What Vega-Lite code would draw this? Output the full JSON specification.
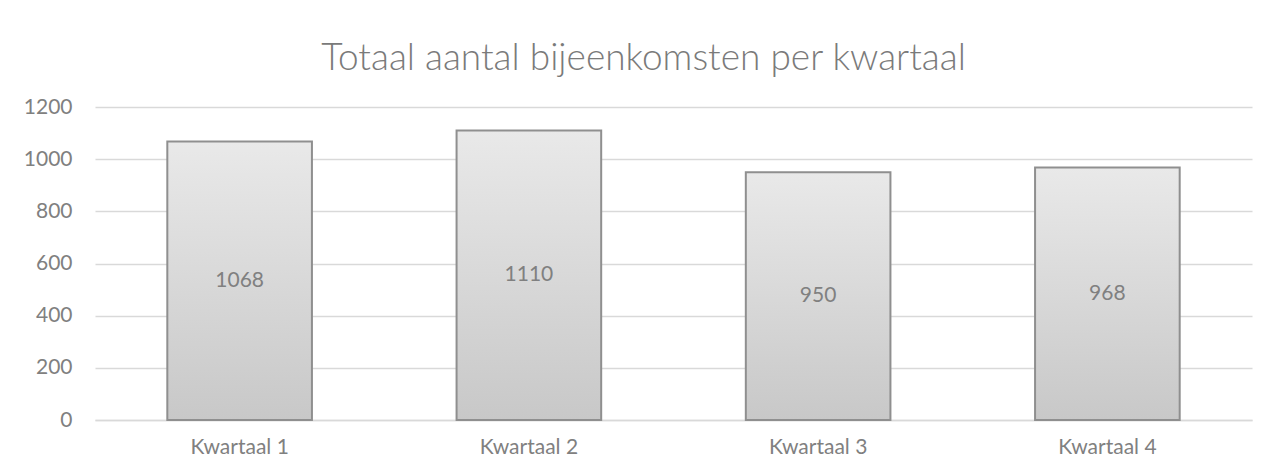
{
  "$schema": "https://vega.github.io/schema/vega-lite/v6.json",
  "width": 1157,
  "height": 313,
  "autosize": {"type": "none"},
  "padding": {"left": 95, "top": 107, "right": 30, "bottom": 55},
  "background": "white",
  "title": {
    "text": "Totaal aantal bijeenkomsten per kwartaal",
    "font": "Lato",
    "fontSize": 37,
    "fontWeight": 300,
    "color": "#7a7a7a",
    "anchor": "middle",
    "offset": 18,
    "dx": -30
  },
  "data": {
    "values": [
      {"kwartaal": "Kwartaal 1", "aantal": 1068},
      {"kwartaal": "Kwartaal 2", "aantal": 1110},
      {"kwartaal": "Kwartaal 3", "aantal": 950},
      {"kwartaal": "Kwartaal 4", "aantal": 968}
    ]
  },
  "config": {
    "view": {"stroke": null},
    "axis": {
      "labelFont": "Lato",
      "labelFontSize": 21,
      "labelColor": "#808080",
      "titleFont": "Lato"
    }
  },
  "encoding": {
    "x": {
      "field": "kwartaal",
      "type": "nominal",
      "sort": null,
      "scale": {"paddingInner": 0.5, "paddingOuter": 0.25},
      "axis": {
        "title": null,
        "labelAngle": 0,
        "ticks": false,
        "labelPadding": 16,
        "domainColor": "#d9d9d9",
        "domainWidth": 1.5
      }
    }
  },
  "layer": [
    {
      "mark": {
        "type": "bar",
        "stroke": "#8f8f8f",
        "strokeWidth": 2,
        "color": {
          "gradient": "linear",
          "x1": 0, "y1": 0, "x2": 0, "y2": 1,
          "stops": [
            {"offset": 0, "color": "#e9e9e9"},
            {"offset": 1, "color": "#c8c8c8"}
          ]
        }
      },
      "encoding": {
        "y": {
          "field": "aantal",
          "type": "quantitative",
          "scale": {"domain": [0, 1200], "nice": false},
          "axis": {
            "title": null,
            "format": "d",
            "values": [0, 200, 400, 600, 800, 1000, 1200],
            "ticks": false,
            "domain": false,
            "labelPadding": 23,
            "gridColor": "#d9d9d9",
            "gridWidth": 1.5
          }
        }
      }
    },
    {
      "transform": [{"calculate": "datum.aantal / 2", "as": "midden"}],
      "mark": {
        "type": "text",
        "font": "Lato",
        "fontSize": 21,
        "color": "#808080",
        "baseline": "middle"
      },
      "encoding": {
        "y": {"field": "midden", "type": "quantitative"},
        "text": {"field": "aantal", "type": "quantitative", "format": "d"}
      }
    }
  ]
}
